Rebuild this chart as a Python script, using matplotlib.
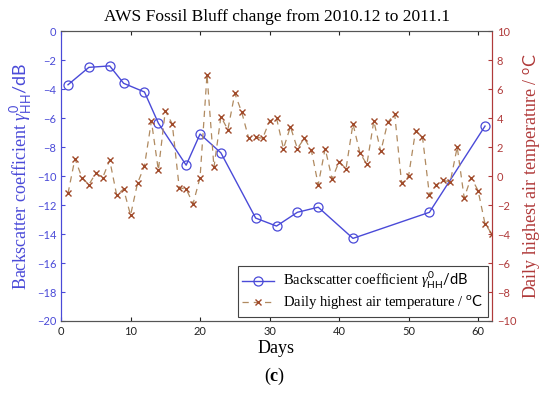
import matplotlib
matplotlib.use("Agg")
import matplotlib.pyplot as plt

# backscatter coefficient (dB) on the days it was measured
bs_days = [1, 4, 7, 9, 12, 14, 18, 20, 23, 28, 31, 34, 37, 42, 53, 61]
bs_vals = [-3.7, -2.5, -2.4, -3.6, -4.2, -6.35, -9.25, -7.1, -8.4,
           -12.9, -13.45, -12.5, -12.15, -14.3, -12.5, -6.55]

# daily highest air temperature (degC), days 1..62
temp_days = list(range(1, 63))
temp_vals = [-1.2, 1.2, -0.1, -0.6, 0.2, -0.1, 1.1, -1.3, -0.9, -2.7,
             -0.5, 0.7, 3.8, 0.4, 4.5, 3.6, -0.8, -0.9, -1.9, -0.1,
             7.0, 0.6, 4.1, 3.2, 5.7, 4.4, 2.6, 2.7, 2.6, 3.8,
             4.0, 1.9, 3.4, 1.9, 2.6, 1.8, -0.6, 1.9, -0.2, 1.0,
             0.5, 3.6, 1.6, 0.8, 3.8, 1.7, 3.7, 4.3, -0.5, 0.0,
             3.1, 2.7, -1.3, -0.6, -0.3, -0.4, 2.0, -1.5, -0.1, -1.0,
             -3.3, -4.0]

blue = '#4a4ad8'
red = '#b03a3a'
serif = 'Liberation Serif'
tickfont = 'Lato'

# math text: greek italic serif, subscripts/units in sans
plt.rcParams['mathtext.fontset'] = 'custom'
plt.rcParams['mathtext.rm'] = 'Lato'
plt.rcParams['mathtext.it'] = 'Liberation Serif:italic'
plt.rcParams['mathtext.bf'] = 'Liberation Serif:bold'

bs_label = r'Backscatter coefficient $\gamma^{0}_{\mathrm{HH}}\mathrm{/dB}$'
t_label = r'Daily highest air temperature / $\mathrm{^{o}C}$'

fig = plt.figure(figsize=(5.5, 3.99), dpi=100)
ax = fig.add_axes([0.111, 0.1955, 0.7835, 0.7265])
ax2 = ax.twinx()

l1, = ax.plot(bs_days, bs_vals, '-o', color=blue, lw=1.0, ms=6.5,
              mfc='none', mec=blue, mew=0.9, label=bs_label)
l2, = ax2.plot(temp_days, temp_vals, '--x', color='#b08a60', lw=0.9, ms=4.5,
               mec='#a04a2a', mew=1.0, dashes=(5, 4), label=t_label)

ax.set_xlim(0, 62)
ax.set_ylim(-20, 0)
ax2.set_ylim(-10, 10)
ax.set_xticks(range(0, 61, 10))
ax.set_yticks(range(-20, 1, 2))
ax2.set_yticks(range(-10, 11, 2))

ax.tick_params(axis='x', direction='in', top=True, labelsize=8, length=3,
               colors='#222222')
ax.tick_params(axis='y', direction='in', labelsize=8, length=3,
               colors=blue)
ax2.tick_params(axis='y', direction='in', labelsize=8, length=3,
                colors=red)
for lab in ax.get_xticklabels() + ax.get_yticklabels() + ax2.get_yticklabels():
    lab.set_family(tickfont)

ax.spines['left'].set_color(blue)
ax2.spines['left'].set_color(blue)
ax2.spines['right'].set_color(red)
ax.spines['right'].set_color(red)
for sp in ['top', 'bottom']:
    ax.spines[sp].set_color('#555555')
    ax2.spines[sp].set_color('#555555')

ax.set_title('AWS Fossil Bluff change from 2010.12 to 2011.1',
             family=serif, fontsize=12.5, pad=7)
ax.set_xlabel('Days', family=serif, fontsize=13, labelpad=2)
ax.set_ylabel(bs_label, family=serif, fontsize=13, color=blue, labelpad=1)
ax2.set_ylabel(t_label, family=serif, fontsize=13, color=red, labelpad=4)

leg = ax.legend(handles=[l1, l2], loc='lower right',
                prop={'family': serif, 'size': 10.5},
                fancybox=False, framealpha=1, edgecolor='#444444',
                borderaxespad=0.3, handlelength=2.2, borderpad=0.3,
                labelspacing=0.2, handletextpad=0.6)
leg.get_frame().set_linewidth(0.8)

fig.text(0.5, 0.045, r'($\mathbf{c}$)', ha='center', family=serif, fontsize=13)

fig.savefig('out.png', dpi=100)
